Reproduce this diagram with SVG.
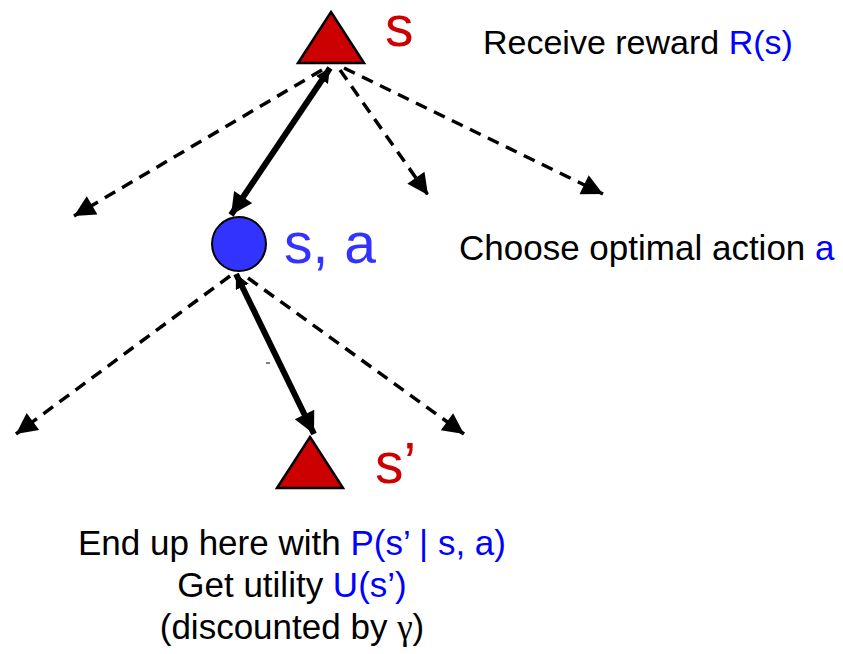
<svg xmlns="http://www.w3.org/2000/svg" width="843" height="654" viewBox="0 0 843 654">
<style>
.dash{stroke:#000;stroke-width:3.5;stroke-dasharray:12 8;fill:none}
.thick{stroke:#000;stroke-width:6;fill:none}
.red{fill:#cc0000;stroke:#000;stroke-width:2.5;stroke-linejoin:miter}
.lbl{font-family:"Liberation Sans",Arial,sans-serif;font-size:35px;fill:#000}
.blue{fill:#0000ff}
.big{font-family:"Liberation Sans",Arial,sans-serif;font-size:57px}
</style>
<defs>
<marker id="ah" viewBox="0 0 10 10" refX="10" refY="5" markerWidth="6.8" markerHeight="6" orient="auto" markerUnits="strokeWidth"><path d="M0,0 L10,5 L0,10 z" fill="#000"/></marker>
<marker id="ahT" viewBox="0 0 10 10" refX="10" refY="5" markerWidth="4" markerHeight="3.6" orient="auto" markerUnits="strokeWidth"><path d="M0,0 L10,5 L0,10 z" fill="#000"/></marker>
<marker id="ahS" viewBox="0 0 10 10" refX="0" refY="5" markerWidth="2.4" markerHeight="2.4" orient="auto" markerUnits="strokeWidth"><path d="M10,0 L0,5 L10,10 z" fill="#000"/></marker>
</defs>
<g id="connectors">
<line class="dash" x1="322" y1="70" x2="74" y2="216" marker-end="url(#ah)"/>
<line class="dash" x1="340" y1="70" x2="428" y2="195" marker-end="url(#ah)"/>
<line class="dash" x1="344" y1="68" x2="603" y2="194" marker-end="url(#ah)"/>
<line class="thick" x1="330" y1="68" x2="231" y2="215" marker-start="url(#ahS)" marker-end="url(#ahT)"/>
<line class="dash" x1="230" y1="276" x2="16" y2="434" marker-end="url(#ah)"/>
<line class="dash" x1="248" y1="278" x2="464" y2="434" marker-end="url(#ah)"/>
<line class="thick" x1="236" y1="274" x2="314" y2="434" marker-start="url(#ahS)" marker-end="url(#ahT)"/>
<line x1="266" y1="363" x2="270" y2="363" stroke="#000" stroke-width="1"/>
</g>
<g id="node-s">
<polygon class="red" points="331,12 364,63 298,63"/>
<text class="big" x="385" y="46" fill="#cc0000">s</text>
</g>
<g id="node-sa">
<circle cx="239" cy="244" r="27" fill="#3333ff" stroke="#000" stroke-width="2"/>
<text class="big" x="284" y="263" fill="#3333ff">s, a</text>
</g>
<g id="node-s2">
<polygon class="red" points="310,437 343,488 277,488"/>
<text class="big" x="375" y="483" fill="#cc0000">s’</text>
</g>
<g id="labels">
<text class="lbl" x="483" y="54" style="font-size:34px">Receive reward <tspan class="blue">R(s)</tspan></text>
<text class="lbl" x="459" y="260">Choose optimal action <tspan class="blue">a</tspan></text>
<text class="lbl" x="292" y="555" text-anchor="middle">End up here with <tspan class="blue">P(s’ | s, a)</tspan></text>
<text class="lbl" x="292" y="597" text-anchor="middle">Get utility <tspan class="blue">U(s’)</tspan></text>
<text class="lbl" x="292" y="639" text-anchor="middle">(discounted by <tspan font-family="'Liberation Serif',serif">γ</tspan>)</text>
</g>
</svg>
